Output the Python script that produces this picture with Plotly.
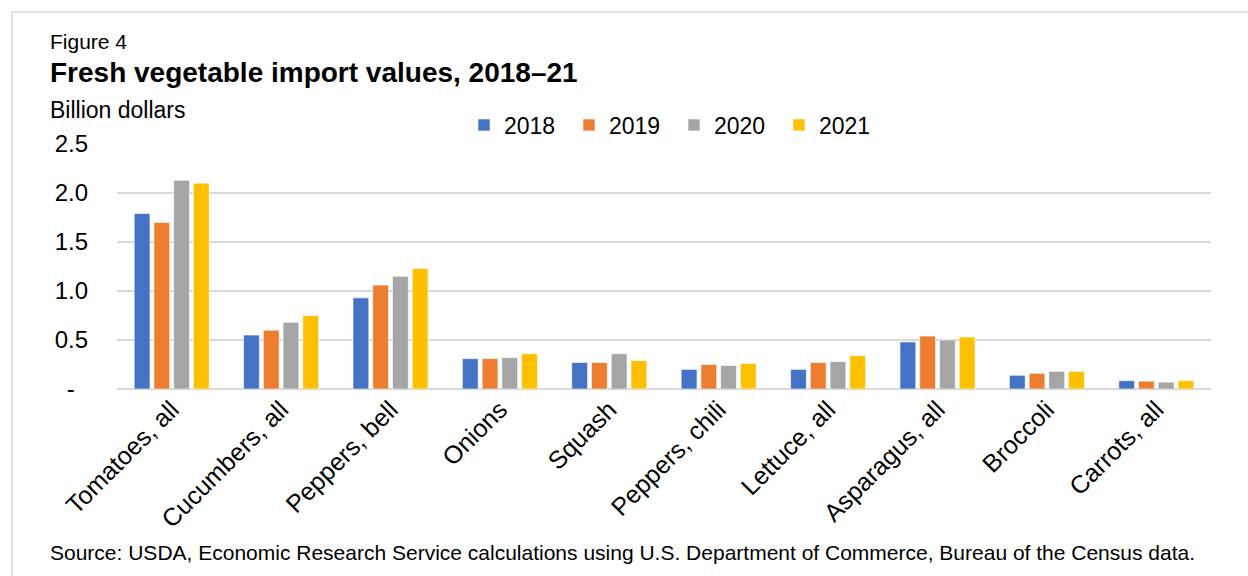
import plotly.graph_objects as go

# Fresh vegetable import values, billion dollars
categories = ["Tomatoes, all", "Cucumbers, all", "Peppers, bell", "Onions", "Squash",
              "Peppers, chili", "Lettuce, all", "Asparagus, all", "Broccoli", "Carrots, all"]
years = ["2018", "2019", "2020", "2021"]
values_2018 = [1.79, 0.55, 0.93, 0.31, 0.27, 0.20, 0.20, 0.48, 0.14, 0.085]
values_2019 = [1.70, 0.60, 1.06, 0.31, 0.27, 0.25, 0.27, 0.54, 0.16, 0.080]
values_2020 = [2.13, 0.68, 1.15, 0.32, 0.36, 0.24, 0.28, 0.50, 0.18, 0.070]
values_2021 = [2.10, 0.75, 1.23, 0.36, 0.29, 0.26, 0.34, 0.53, 0.18, 0.085]
y_tickvals = [0, 0.5, 1.0, 1.5, 2.0, 2.5]
y_ticktext = ["-\u00a0\u00a0", "0.5", "1.0", "1.5", "2.0", "2.5"]

series = [values_2018, values_2019, values_2020, values_2021]
colors = ["#4472C4", "#ED7D31", "#A5A5A5", "#FFC000"]

FONT = "Arial, 'Liberation Sans', sans-serif"

fig = go.Figure()
for name, vals, col in zip(years, series, colors):
    fig.add_trace(go.Bar(
        x=categories, y=vals, name=name,
        marker=dict(color=col, line=dict(color="rgba(255,255,255,0.6)", width=1)),
    ))

W, H = 1248, 576
ml, mr, mt, mb = 117, 37, 144, 187
pw = W - ml - mr
ph = H - mt - mb


def px_x(x):
    return (x - ml) / pw


def px_y(y):
    return (H - mb - y) / ph


fig.update_layout(
    width=W, height=H,
    margin=dict(l=ml, r=mr, t=mt, b=mb, autoexpand=False),
    paper_bgcolor="white", plot_bgcolor="white",
    font=dict(family=FONT, color="black", size=21),
    barmode="group", bargap=0.278, bargroupgap=0.2,
    showlegend=True,
    legend=dict(orientation="h", x=px_x(674), y=px_y(125), xanchor="center", yanchor="middle",
                font=dict(size=23), bgcolor="rgba(0,0,0,0)", entrywidth=60, entrywidthmode="pixels",
                itemclick=False),
    xaxis=dict(showgrid=False, showline=False, ticks="", tickangle=-45,
               tickfont=dict(size=25), ticklabelstandoff=0),
    yaxis=dict(range=[0, 2.5], tickvals=y_tickvals, ticktext=y_ticktext,
               showgrid=True, gridcolor="#D9D9D9", gridwidth=1.5,
               zeroline=True, zerolinecolor="#D9D9D9", zerolinewidth=1.5,
               showline=False, ticks="", tickfont=dict(size=24), ticklabelstandoff=28),
    shapes=[dict(type="rect", xref="paper", yref="paper",
                 x0=px_x(12), x1=px_x(1300), y0=px_y(620), y1=px_y(12),
                 line=dict(color="#D9D9D9", width=1.5), fillcolor="rgba(0,0,0,0)", layer="below")],
    annotations=[
        dict(text="Figure 4", xref="paper", yref="paper", x=px_x(48), y=px_y(42),
             xanchor="left", yanchor="middle", showarrow=False, font=dict(size=21)),
        dict(text="<b>Fresh vegetable import values, 2018\u201321</b>", xref="paper", yref="paper",
             x=px_x(48), y=px_y(72), xanchor="left", yanchor="middle", showarrow=False,
             font=dict(size=28)),
        dict(text="Billion dollars", xref="paper", yref="paper", x=px_x(48), y=px_y(110),
             xanchor="left", yanchor="middle", showarrow=False, font=dict(size=23)),
        dict(text="Source: USDA, Economic Research Service calculations using U.S. Department of Commerce, "
                  "Bureau of the Census data.",
             xref="paper", yref="paper", x=px_x(48), y=px_y(552), xanchor="left", yanchor="middle",
             showarrow=False, font=dict(size=21)),
    ],
)

fig.write_html("out.html")
